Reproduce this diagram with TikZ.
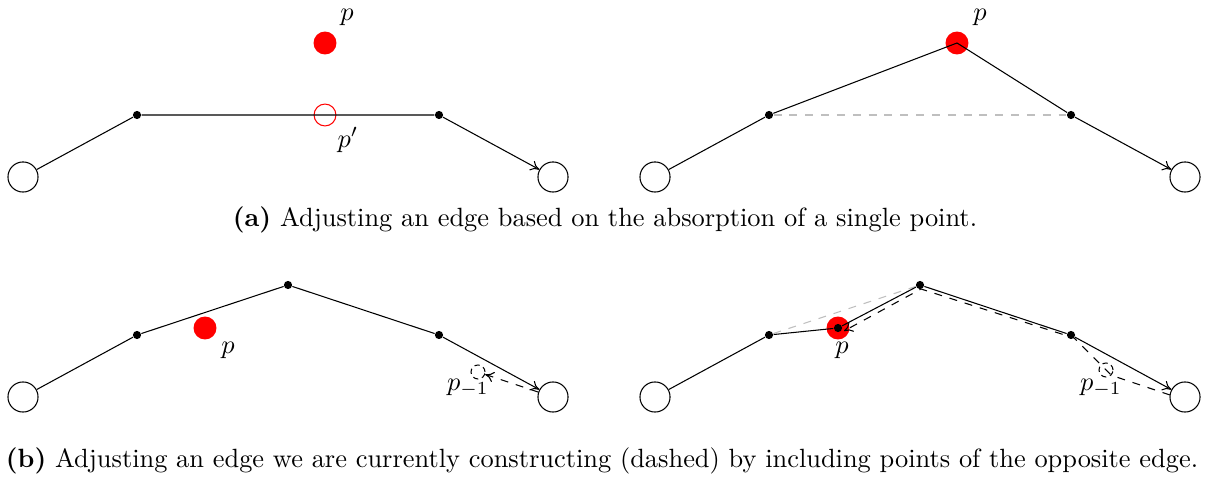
\documentclass[tikz,border=0pt]{standalone}
\usetikzlibrary{arrows.meta}
\begin{document}
\begin{tikzpicture}[x=0.379pt,y=-0.379pt,
  endpt/.style={circle,draw,minimum size=11.4pt,inner sep=0pt},
  vtx/.style={circle,fill=black,minimum size=3.1pt,inner sep=0pt},
  redpt/.style={circle,fill=red,minimum size=8.7pt,inner sep=0pt},
  redopen/.style={circle,draw=red,minimum size=8.3pt,inner sep=0pt},
  ghost/.style={circle,draw,dashed,dash pattern=on 2pt off 1.5pt,minimum size=5.3pt,inner sep=0pt},
  lbl/.style={inner sep=0pt},
  gline/.style={draw=black!25,dashed},
  dline/.style={draw,dashed},
  arr/.style={-{To[length=3.3pt,width=4pt]}}]
\useasboundingbox (0,0) rectangle (1206,478);
% ---------- (a) left
\node[endpt] (a1) at (23,177) {};
\node[vtx] (a2) at (137,115) {};
\node[vtx] (a3) at (439,115) {};
\node[endpt] (a4) at (553,177) {};
\node[redpt] (ap) at (325,43) {};
\node[redopen] (apq) at (325,115) {};
\node[lbl] (aplbl) at (347,17) {$p$};
\node[lbl] (apqlbl) at (348,140) {$p'$};
\draw (a1) -- (a2) -- (a3);
\draw[arr] (a3) -- (a4);
% ---------- (a) right
\node[endpt] (b1) at (655,177) {};
\node[vtx] (b2) at (769,115) {};
\node[vtx] (b3) at (1071,115) {};
\node[endpt] (b4) at (1185,177) {};
\node[redpt] (bp) at (957,43) {};
\node[lbl] (bplbl) at (980,17) {$p$};
\draw[gline] (b2) -- (b3);
\draw (b1) -- (b2) -- (bp.center) -- (b3);
\draw[arr] (b3) -- (b4);
\node (capa) at (605,220) {\textbf{(a)} Adjusting an edge based on the absorption of a single point.};
% ---------- (b) left
\node[endpt] (c1) at (23,397) {};
\node[vtx] (c2) at (137,335) {};
\node[vtx] (c3) at (288,285) {};
\node[vtx] (c4) at (439,335) {};
\node[endpt] (c5) at (553,397) {};
\node[redpt] (cp) at (205,328) {};
\node[lbl] (cplbl) at (228,350) {$p$};
\node[ghost] (cm) at (478,372) {};
\node[lbl] (cmlbl) at (468,388) {$p_{-1}$};
\draw (c1) -- (c2) -- (c3) -- (c4);
\draw[arr] (c4) -- (c5);
\draw[dline,arr] (c5) -- (cm);
% ---------- (b) right
\node[endpt] (d1) at (655,397) {};
\node[vtx] (d2) at (769,335) {};
\node[redpt] (dp) at (838,328) {};
\node[vtx] (dpc) at (838,328) {};
\node[vtx] (d3) at (920,285) {};
\node[vtx] (d4) at (1071,335) {};
\node[endpt] (d5) at (1185,397) {};
\node[lbl] (dplbl) at (842,350) {$p$};
\node[ghost] (dm) at (1106,370) {};
\node[lbl] (dmlbl) at (1101,388) {$p_{-1}$};
\coordinate (e1) at (1170,395);
\coordinate (e2) at (1074,338);
\coordinate (e3) at (921,289);
\coordinate (e4) at (844,331);
\draw[gline] (d2) -- (d3);
\draw (d1) -- (d2) -- (dpc) -- (d3) -- (d4);
\draw[arr] (d4) -- (d5);
\draw[dline,arr] (e1) -- (dm.south east) -- (e2) -- (e3) -- (e4);
\node (capb) at (602,461) {\textbf{(b)} Adjusting an edge we are currently constructing (dashed) by including points of the opposite edge.};
\end{tikzpicture}
\end{document}
